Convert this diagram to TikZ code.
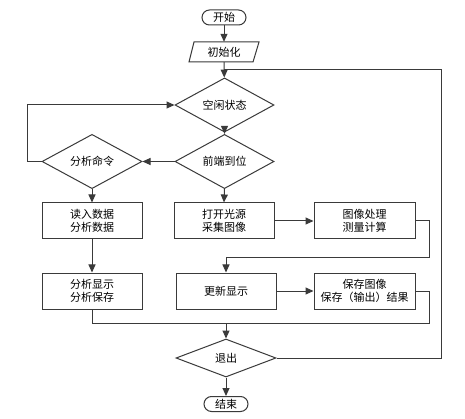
\documentclass[tikz,border=0pt]{standalone}
\usepackage{fontspec}
\setmainfont{Noto Sans CJK SC}
\usetikzlibrary{shapes.geometric,arrows.meta}
\definecolor{ln}{HTML}{3A3A3A}
\begin{document}
\begin{tikzpicture}[x=1pt,y=-1pt,
  every node/.style={font=\fontsize{11}{12.5}\selectfont, text=black, inner sep=0pt, align=center},
  term/.style={draw=ln, line width=1pt, rectangle, rounded corners=7.5pt, minimum width=44pt, minimum height=15pt},
  procbox/.style={draw=ln, line width=1pt, rectangle, minimum width=100pt, minimum height=36pt},
  decide/.style={draw=ln, line width=1pt, diamond, minimum width=100pt, minimum height=38pt},
  ln/.style={draw=ln, line width=1pt},
  arr/.style={draw=ln, line width=1pt, -{Triangle[length=8pt,width=7pt]}}
]
\useasboundingbox (0,0) rectangle (465,419);
\fill[white] (0,0) rectangle (465,419);

\node[term] (start) at (224,17.5) {开始};
\node[minimum width=64pt, minimum height=20pt] (init) at (224,52) {初始化};
\draw[ln] (189,62) -- (194,42) -- (259,42) -- (253,62) -- cycle;
\node[decide, minimum width=99pt] (idle) at (224.5,105) {空闲状态};
\node[decide, minimum width=99pt] (front) at (224.5,161.5) {前端到位};
\node[decide] (cmd) at (92,161.5) {分析命令};
\node[procbox] (readin) at (92,221) {读入数据\\分析数据};
\node[procbox] (light) at (224,221) {打开光源\\采集图像};
\node[procbox, minimum width=101pt] (proc) at (364.5,221) {图像处理\\测量计算};
\node[procbox] (showsave) at (92,291) {分析显示\\分析保存};
\node[procbox] (update) at (226,291) {更新显示};
\node[procbox, minimum width=101pt] (saveimg) at (364.5,291) {保存图像\\保存（输出）结果};
\node[decide] (exit) at (226,358) {退出};
\node[term] (end) at (226,404) {结束};

\coordinate (j1) at (224,70);
\coordinate (j2) at (226,258);
\coordinate (j3) at (226,323);

\draw[arr] (start) -- (init);
\draw[arr] (init) -- (idle);
\draw[ln] (exit.east) -- (441,358) -- (441,70) -- (j1);
\draw[arr] (idle) -- (front);
\draw[arr] (front.west) -- (cmd.east);
\draw[arr] (cmd.west) -- (27,161.5) -- (27,105) -- (idle.west);
\draw[arr] (cmd.south) -- (readin.north);
\draw[arr] (front.south) -- (light.north);
\draw[arr] (readin) -- (showsave);
\draw[arr] (light) -- (proc);
\draw[ln] (proc.east) -- (429,221) -- (429,258) -- (j2);
\draw[arr] (j2) -- (update.north);
\draw[arr] (update) -- (saveimg);
\draw[ln] (saveimg.east) -- (429,291) -- (429,323) -- (j3);
\draw[ln] (showsave.south) -- (92,323) -- (j3);
\draw[arr] (j3) -- (exit.north);
\draw[arr] (exit) -- (end);
\end{tikzpicture}
\end{document}
